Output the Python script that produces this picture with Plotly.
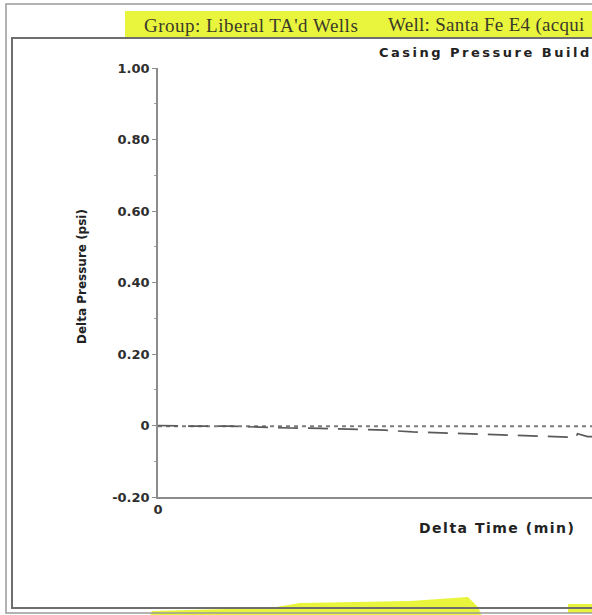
import plotly.graph_objects as go

# ---- data ----
time_min = [0, 2.2, 5.0, 7.1, 9.1, 11.2, 13.6, 15.7, 17.6, 19.8, 22.0, 24.1, 26.2, 28.3, 28.9, 29.0, 29.7, 31.0]
casing_dp = [0.0, -0.002, -0.002, -0.005, -0.007, -0.008, -0.010, -0.013, -0.018, -0.021, -0.024,
             -0.027, -0.030, -0.033, -0.033, -0.023, -0.031, -0.031]
ref_time = [0, 31.0]
ref_dp = [-0.002, -0.002]

ytick_vals = [-0.2, 0, 0.2, 0.4, 0.6, 0.8, 1.0]
ytick_text = ["-0.20", "0", "0.20", "0.40", "0.60", "0.80", "1.00"]
xtick_vals = [0]
xtick_text = ["0"]

W, H = 592, 615


def PX(x):
    return x / W


def PY(y):
    return 1 - y / H


fig = go.Figure()
fig.add_trace(go.Scatter(x=ref_time, y=ref_dp, mode="lines",
                         line=dict(color="#7c7c7c", width=2, dash="4px,4px"),
                         showlegend=False, hoverinfo="skip"))
fig.add_trace(go.Scatter(x=time_min, y=casing_dp, mode="lines",
                         line=dict(color="#5a5a5a", width=1.7, dash="20px,10px"),
                         showlegend=False, hoverinfo="skip"))

tickfont = dict(family="DejaVu Sans", size=13, color="#2e2e2e", weight="bold")

fig.update_layout(
    width=W, height=H,
    margin=dict(l=0, r=0, t=0, b=0, pad=0),
    paper_bgcolor="white", plot_bgcolor="white",
    xaxis=dict(domain=[PX(158), 1], range=[0, 30], showgrid=False, zeroline=False,
               showline=True, linecolor="#8c8c8c", linewidth=1.5,
               tickvals=xtick_vals, ticktext=xtick_text, ticks="", tickfont=tickfont,
               automargin=False),
    yaxis=dict(domain=[PY(497), PY(68)], range=[-0.2, 1.0], showgrid=False, zeroline=False,
               showline=True, linecolor="#8c8c8c", linewidth=1.5,
               tickvals=ytick_vals, ticktext=ytick_text, ticks="outside", ticklen=4,
               tickcolor="#8c8c8c", tickwidth=1.3, tickfont=tickfont,
               minor=dict(dtick=0.1, ticks="outside", ticklen=2, tickcolor="#a0a0a0"),
               automargin=False),
    shapes=[
        # header highlight
        dict(type="rect", xref="paper", yref="paper", x0=PX(125), x1=PX(600), y0=PY(37), y1=PY(11),
             fillcolor="#e8f53c", line=dict(width=0), layer="below"),
        # bottom highlighter marks
        dict(type="path", xref="paper", yref="paper",
             path="M {} {} L {} {} L {} {} L {} {} L {} {} L {} {} L {} {} L {} {} Z".format(
                 PX(150), PY(616), PX(152), PY(611), PX(270), PY(608), PX(300), PY(603),
                 PX(410), PY(601), PX(468), PY(597), PX(478), PY(607), PX(482), PY(616)),
             fillcolor="#e8f53c", line=dict(width=0), layer="below"),
        dict(type="rect", xref="paper", yref="paper", x0=PX(568), x1=PX(600), y0=PY(613), y1=PY(604),
             fillcolor="#e8f53c", line=dict(width=0), layer="below"),
        # outer frame
        dict(type="rect", xref="paper", yref="paper", x0=PX(6), x1=PX(620), y0=PY(613), y1=PY(4),
             line=dict(color="#9a9a9a", width=1.5)),
        # inner frame
        dict(type="rect", xref="paper", yref="paper", x0=PX(12), x1=PX(620), y0=PY(608), y1=PY(38),
             line=dict(color="#6e6e6e", width=2)),
    ],
    annotations=[
        dict(xref="paper", yref="paper", x=PX(142), y=PY(25), xanchor="left", yanchor="middle",
             text="<span style='letter-spacing:0.5px'>Group: Liberal TA'd Wells</span>", showarrow=False,
             font=dict(family="Liberation Serif", size=19, color="#3a3a2a")),
        dict(xref="paper", yref="paper", x=PX(386), y=PY(25), xanchor="left", yanchor="middle",
             text="<span style='letter-spacing:0.3px'>Well: Santa Fe E4 (acqui</span>", showarrow=False,
             font=dict(family="Liberation Serif", size=19, color="#3a3a2a")),
        dict(xref="paper", yref="paper", x=PX(377), y=PY(52), xanchor="left", yanchor="middle",
             text="<span style='letter-spacing:2.5px'>Casing Pressure Build</span>", showarrow=False,
             font=dict(family="DejaVu Sans", size=13, color="#222222", weight="bold")),
        dict(xref="paper", yref="paper", x=PX(417), y=PY(528), xanchor="left", yanchor="middle",
             text="<span style='letter-spacing:1.5px'>Delta Time (min)</span>", showarrow=False,
             font=dict(family="DejaVu Sans", size=14, color="#222222", weight="bold")),
        dict(xref="paper", yref="paper", x=PX(82), y=PY(277), xanchor="center", yanchor="middle",
             text="Delta Pressure (psi)", textangle=-90, showarrow=False,
             font=dict(family="DejaVu Sans", size=12, color="#222222", weight="bold")),
    ],
)

fig.write_html("out.html", config={"displayModeBar": False},
               post_script="document.body.style.margin='0';document.body.style.overflow='hidden';")
